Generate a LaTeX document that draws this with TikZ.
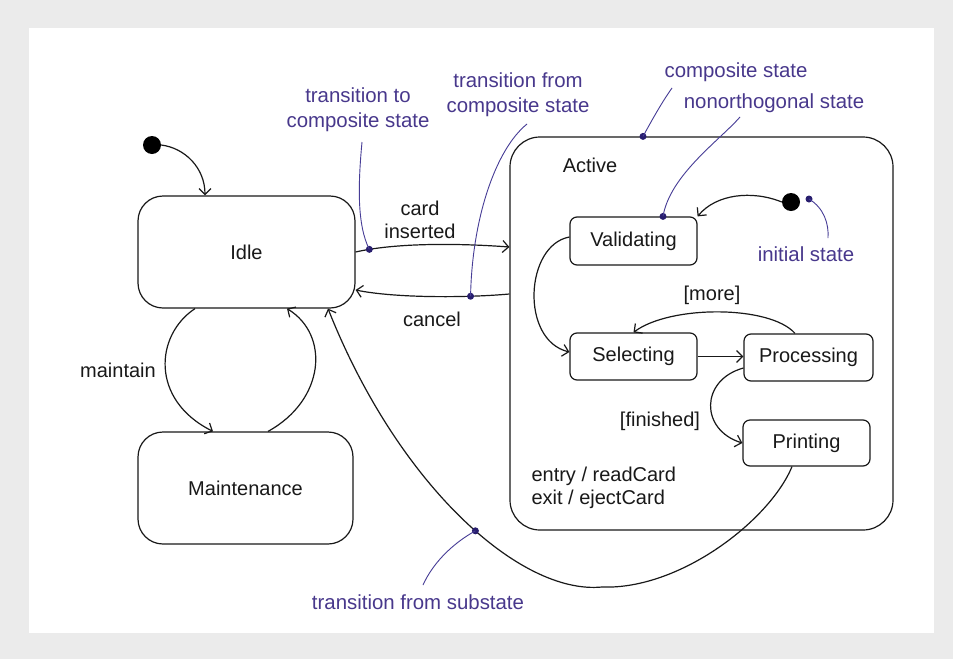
\documentclass[tikz,border=0pt]{standalone}
\usepackage{fontspec}
\setmainfont{Liberation Sans}
\usetikzlibrary{arrows.meta,calc}
\definecolor{pagegray}{RGB}{235,235,235}
\definecolor{notetext}{RGB}{72,56,140}
\definecolor{noteline}{RGB}{70,60,150}
\definecolor{notedotc}{RGB}{40,30,110}
\definecolor{ink}{RGB}{25,25,25}

\begin{document}
\begin{tikzpicture}[x=1pt,y=-1pt,
  every node/.style={font=\fontsize{20}{23}\selectfont, text=ink},
  statebox/.style={draw=ink, line width=1.2pt, fill=white, rounded corners=#1, inner sep=0pt},
  statebox/.default=7pt,
  trans/.style={draw=ink, line width=1.2pt, -{Straight Barb[length=6pt,width=12pt]}},
  initdot/.style={circle, fill=black, minimum size=18pt, inner sep=0pt},
  notedot/.style={circle, fill=notedotc, minimum size=7pt, inner sep=0pt},
  notelabel/.style={text=notetext, align=center, font=\fontsize{20.4}{25}\selectfont},
  noteline/.style={draw=noteline, line width=0.9pt}
]
% page and panel
\useasboundingbox (0,0) rectangle (953,659);
\fill[pagegray] (0,0) rectangle (953,659);
\fill[white] (29,28) rectangle (934,633);

% top-level states
\node[statebox=25pt, minimum width=217pt, minimum height=112pt] (idle) at (246.5,252) {Idle};
\node[statebox=25pt, minimum width=215pt, minimum height=112pt] (maint) at (245.5,488) {Maintenance};
\node[statebox=30pt, minimum width=383pt, minimum height=393pt] (active) at (701.5,333.5) {};
\node (activelbl) at (590,165) {Active};
\node[align=left, anchor=west] (actions) at (528,488) {entry / readCard\\exit / ejectCard};

% substates of Active
\node[statebox, minimum width=127pt, minimum height=48pt] (valid) at (633.5,241) {Validating};
\node[statebox, minimum width=127pt, minimum height=47pt] (select) at (633.5,356.5) {Selecting};
\node[statebox, minimum width=129pt, minimum height=47pt] (proc) at (808.5,357.5) {Processing};
\node[statebox, minimum width=127pt, minimum height=46pt] (print) at (806.5,443) {Printing};

% initial pseudostates
\node[initdot] (start) at (152,145) {};
\node[initdot] (substart) at (791,202) {};

% transitions
\draw[trans] (start.east) .. controls (185,148) and (205,168) .. ([xshift=-41.5pt]idle.north);
\draw[trans] (idle.east) .. controls (395,243) and (455,243) .. ([yshift=86.5pt]active.west)
  node[notedot, pos=0.11] (dotin) {};
\draw[trans] ([yshift=39.5pt]active.west) .. controls (465,298) and (395,298) .. ([yshift=-38pt]idle.east)
  node[notedot, pos=0.26] (dotout) {};
\node (cardlbl) at (420,220) [align=center] {card\\inserted};
\node (cancellbl) at (432,319) {cancel};

\draw[trans] ([xshift=-51.5pt]idle.south) .. controls (155,335) and (150,400) .. ([xshift=-32.5pt]maint.north);
\draw[trans] ([xshift=22.5pt]maint.north) .. controls (325,400) and (330,335) .. ([xshift=40.5pt]idle.south);
\node (maintlbl) at (118,370) {maintain};

\coordinate (sweep) at (602,587);
\draw[trans] ([xshift=-14.5pt]print.south) .. controls (770,520) and (680,590) .. (sweep)
  .. controls (520,595) and (398,485) .. ([xshift=81.5pt]idle.south)
  node[notedot, pos=0.45] (dotsub) {};

\draw[trans] (substart.west) .. controls (752,190) and (716,194) .. (valid.north east);
\draw[trans] ([yshift=4pt]valid.west) .. controls (525,245) and (520,340) .. ([yshift=4.5pt]select.west);
\draw[trans] (select.east) -- (select.east -| proc.west);
\draw[trans] ([xshift=-13.5pt]proc.north) .. controls (770,305) and (670,305) .. (select.north);
\node (morelbl) at (712,295) {[more]};
\draw[trans] ([yshift=-10.5pt]proc.west) .. controls (700,380) and (700,430) .. (print.west);
\node (finlbl) at (660,421) {[finished]};

% annotations
\node[notedot] (dotcomp) at ([xshift=-58.5pt]active.north) {};
\node[notedot] (dotvalid) at ([xshift=29.5pt]valid.north) {};
\node[notedot] (dotinit) at ([xshift=18pt,yshift=3pt]substart.center) {};

\node[notelabel] (nTo) at (358,110) {transition to\\composite state};
\node[notelabel] (nFrom) at (518,95) {transition from\\composite state};
\node[notelabel] (nComp) at (736,72) {composite state};
\node[notelabel] (nNon) at (774,103) {nonorthogonal state};
\node[notelabel] (nInit) at (806,254) {initial state};
\node[notelabel] (nSub) at (418,602) {transition from substate};

\coordinate (eTo) at (362,142);
\coordinate (eFrom) at (527,124);
\coordinate (eComp) at (672,88);
\coordinate (eNon) at (740,117);
\coordinate (eInit) at (828,238);
\coordinate (eSub) at (423,585);

\draw[noteline] (dotin.center) .. controls (357,225) and (358,185) .. (eTo);
\draw[noteline] (dotout.center) .. controls (472,220) and (495,150) .. (eFrom);
\draw[noteline] (dotcomp.center) .. controls (652,120) and (662,102) .. (eComp);
\draw[noteline] (dotvalid.center) .. controls (670,175) and (720,140) .. (eNon);
\draw[noteline] (dotinit.center) .. controls (824,208) and (829,224) .. (eInit);
\draw[noteline] (dotsub.center) .. controls (450,545) and (432,565) .. (eSub);
\end{tikzpicture}
\end{document}
